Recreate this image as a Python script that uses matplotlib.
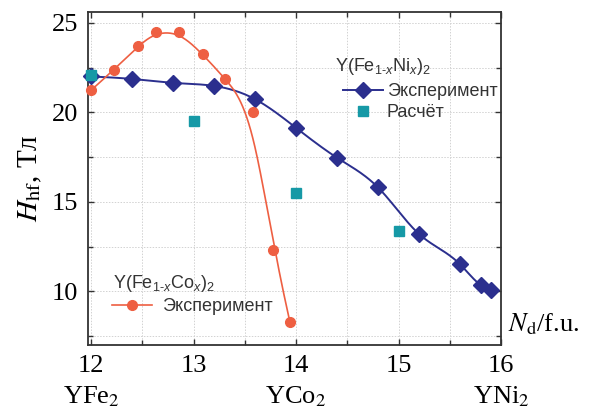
import numpy as np
import matplotlib
matplotlib.use("Agg")
import matplotlib.pyplot as plt
import matplotlib.transforms as mtransforms
from matplotlib.lines import Line2D

# ---------------- data ----------------
ni_x = [12.0, 12.4, 12.8, 13.2, 13.6, 14.0, 14.4, 14.8, 15.2, 15.6, 15.8, 15.9]
ni_h = [22.0, 21.86, 21.64, 21.47, 20.73, 19.13, 17.46, 15.80, 13.20, 11.51, 10.36, 10.08]

co_x = [12.0, 12.22, 12.46, 12.63, 12.86, 13.09, 13.31, 13.58, 13.78, 13.94]
co_h = [21.23, 22.35, 23.72, 24.46, 24.48, 23.24, 21.86, 20.0, 12.33, 8.30]

calc_x = [12.0, 13.0, 14.0, 15.0]
calc_h = [22.07, 19.50, 15.51, 13.37]

xticks = [12, 13, 14, 15, 16]
yticks = [10, 15, 20, 25]
compounds = ["YFe$_2$", "YCo$_2$", "YNi$_2$"]
compound_x = [12, 14, 16]

BLUE = "#2B2F8E"
ORANGE = "#EE5F42"
TEAL = "#1699A6"


def natural_spline(x, y, num=400):
    x = np.asarray(x, float); y = np.asarray(y, float)
    n = len(x)
    h = np.diff(x)
    A = np.zeros((n, n)); b = np.zeros(n)
    A[0, 0] = 1; A[-1, -1] = 1
    for i in range(1, n - 1):
        A[i, i - 1] = h[i - 1]
        A[i, i] = 2 * (h[i - 1] + h[i])
        A[i, i + 1] = h[i]
        b[i] = 6 * ((y[i + 1] - y[i]) / h[i] - (y[i] - y[i - 1]) / h[i - 1])
    M = np.linalg.solve(A, b)
    xs = np.linspace(x[0], x[-1], num)
    idx = np.clip(np.searchsorted(x, xs) - 1, 0, n - 2)
    x0 = x[idx]; x1 = x[idx + 1]; hh = h[idx]
    ys = (M[idx] * (x1 - xs) ** 3 / (6 * hh) + M[idx + 1] * (xs - x0) ** 3 / (6 * hh)
          + (y[idx] / hh - M[idx] * hh / 6) * (x1 - xs)
          + (y[idx + 1] / hh - M[idx + 1] * hh / 6) * (xs - x0))
    return xs, ys


def bspline(cx, cy, num=500, k=3):
    cx = np.asarray(cx, float); cy = np.asarray(cy, float)
    n = len(cx)
    t = np.concatenate([np.zeros(k), np.arange(n - k + 1), np.full(k, n - k)]).astype(float)
    u = np.linspace(0, n - k, num)
    u[-1] -= 1e-9
    B = np.array([((t[i] <= u) & (u < t[i + 1])).astype(float) for i in range(len(t) - 1)])
    for p in range(1, k + 1):
        Bn = np.zeros((len(t) - 1 - p, len(u)))
        for i in range(len(t) - 1 - p):
            term = np.zeros_like(u)
            d1 = t[i + p] - t[i]
            if d1 > 0:
                term += (u - t[i]) / d1 * B[i]
            d2 = t[i + p + 1] - t[i + 1]
            if d2 > 0:
                term += (t[i + p + 1] - u) / d2 * B[i + 1]
            Bn[i] = term
        B = Bn
    return B.T @ cx, B.T @ cy


plt.rcParams["font.family"] = ["Liberation Serif", "DejaVu Serif"]
plt.rcParams["mathtext.fontset"] = "custom"
plt.rcParams["mathtext.rm"] = "Liberation Sans"
plt.rcParams["mathtext.it"] = "Liberation Sans:italic"
plt.rcParams["mathtext.bf"] = "Liberation Sans:bold"

W, H = 592, 417
fig = plt.figure(figsize=(W / 100, H / 100), dpi=100)
ax = fig.add_axes([88 / W, (H - 345) / H, (501 - 88) / W, (345 - 12) / H])

ax.set_xlim(11.97, 16.0)
ax.set_ylim(7.0, 25.6)
ax.set_xticks(xticks)
ax.set_yticks(yticks)
ax.set_xticks(np.arange(12.5, 16, 1.0), minor=True)
ax.set_yticks(np.arange(7.5, 25.6, 5.0), minor=True)
ax.grid(True, which="both", color="#d2d2d2", linestyle=(0, (1.5, 1.5)), linewidth=0.7)
ax.set_axisbelow(True)
ax.tick_params(which="both", direction="in", top=True, right=True, color="#333333")
ax.tick_params(which="major", length=4.5, width=1.0, labelsize=19, pad=7)
ax.tick_params(which="minor", length=3.5, width=1.0)
for s in ax.spines.values():
    s.set_color("#333333")
    s.set_linewidth(1.3)

# curves
bx, by = natural_spline(ni_x, ni_h)
ax.plot(bx, by, color=BLUE, lw=1.4, zorder=3)
ox, oy = bspline(co_x, co_h)
ax.plot(ox, oy, color=ORANGE, lw=1.2, zorder=3)

# markers
ax.plot(ni_x, ni_h, ls="none", marker="D", ms=8.5, color=BLUE, zorder=4, clip_on=False)
ax.plot(co_x, co_h, ls="none", marker="o", ms=7, color=ORANGE, zorder=4, clip_on=False)
ax.plot(calc_x, calc_h, ls="none", marker="s", ms=6.5, color=TEAL, zorder=5, clip_on=False)

# y label
ax.set_ylabel(r"$H_{\mathrm{hf}}$, Тл", fontsize=21, labelpad=6, math_fontfamily="stix")

# x label
fig.text(508 / W, (H - 331) / H, r"$N_{\mathrm{d}}$/f.u.", fontsize=19,
         ha="left", va="baseline", math_fontfamily="stix")

# compound labels under ticks
trans = mtransforms.blended_transform_factory(ax.transData, fig.transFigure)
for cxp, lab in zip(compound_x, compounds):
    ax.text(cxp, (H - 403) / H, lab, transform=trans, fontsize=19,
            ha="center", va="baseline", math_fontfamily="stix")

LFS = 13
# legend titles
fig.text(335 / W, (H - 71) / H, r"Y(Fe$_{1\text{-}x}$Ni$_x$)$_2$", fontsize=LFS,
         family="Liberation Sans", ha="left", va="baseline", color="#333333")
fig.text(113 / W, (H - 288) / H, r"Y(Fe$_{1\text{-}x}$Co$_x$)$_2$", fontsize=LFS,
         family="Liberation Sans", ha="left", va="baseline", color="#333333")

# legends
h1 = Line2D([], [], color=BLUE, lw=1.4, marker="D", ms=8.5)
h2 = Line2D([], [], ls="none", color=TEAL, marker="s", ms=6.5)
leg1 = ax.legend([h1, h2], ["Эксперимент", "Расчёт"],
                 loc="upper left", bbox_to_anchor=(343 / W, 1 - 83 / H),
                 bbox_transform=fig.transFigure, frameon=False, borderpad=0,
                 handlelength=2.2, handletextpad=0.22, labelspacing=0.22,
                 borderaxespad=0, labelcolor="#333333",
                 prop={"family": "Liberation Sans", "size": LFS})
ax.add_artist(leg1)

h3 = Line2D([], [], color=ORANGE, lw=1.2, marker="o", ms=7)
leg2 = ax.legend([h3], ["Эксперимент"],
                 loc="upper left", bbox_to_anchor=(112 / W, 1 - 298 / H),
                 bbox_transform=fig.transFigure, frameon=False, borderpad=0,
                 handlelength=2.2, handletextpad=0.55, labelspacing=0.22,
                 borderaxespad=0, labelcolor="#333333",
                 prop={"family": "Liberation Sans", "size": LFS})

fig.savefig("out.png", dpi=100)
